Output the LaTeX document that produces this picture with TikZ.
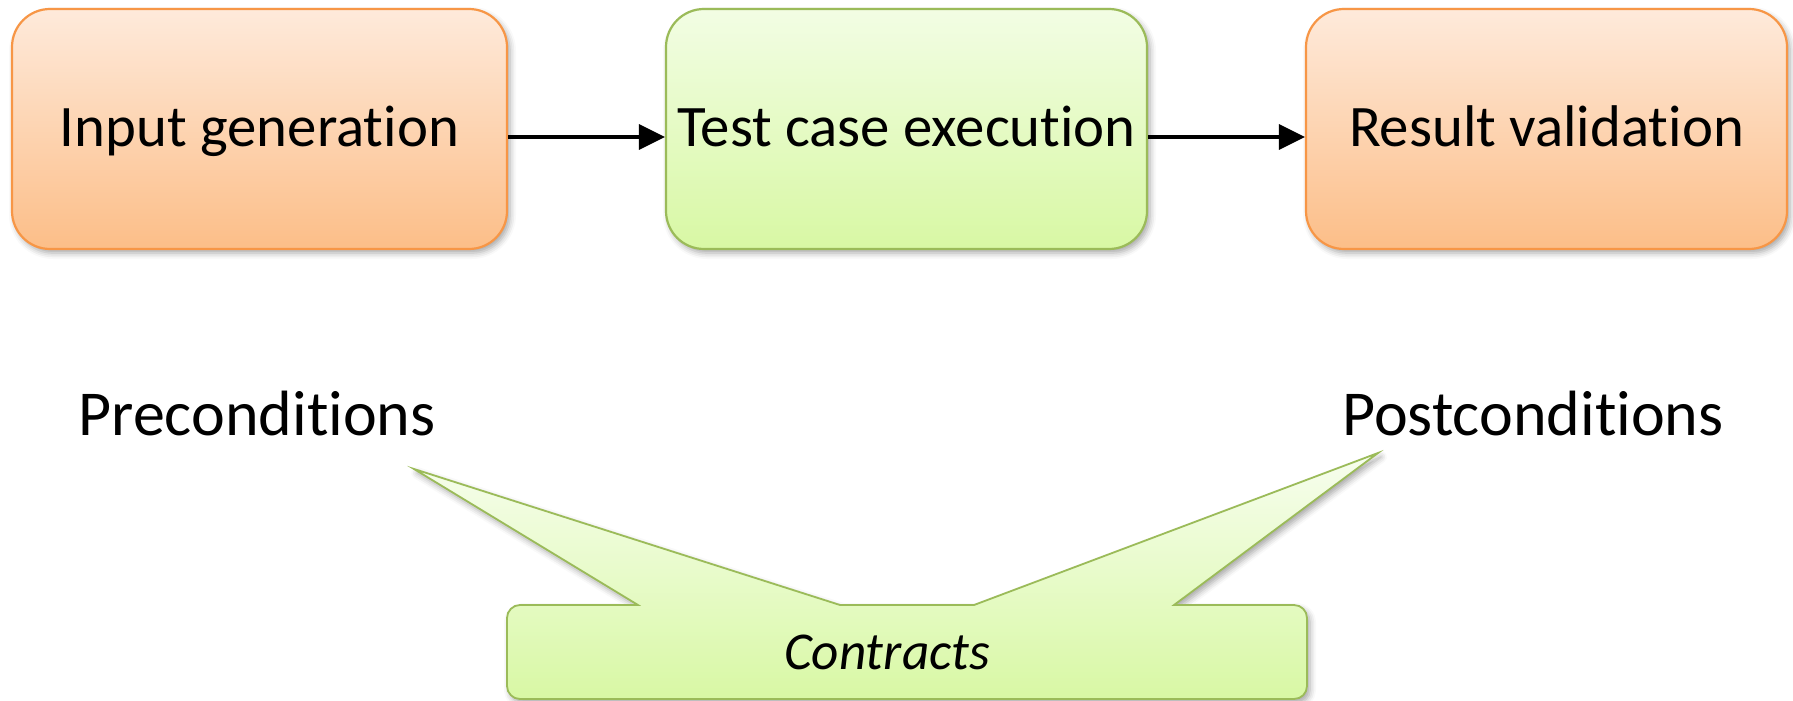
\documentclass[tikz,border=0pt]{standalone}
\usepackage{fontspec}
\setmainfont{Carlito}[Ligatures={NoCommon,NoRequired,NoContextual}]
\usetikzlibrary{arrows.meta,shadows.blur}

\definecolor{orTop}{HTML}{FEEADB}
\definecolor{orBot}{HTML}{FCBE88}
\definecolor{orLine}{HTML}{F79646}
\definecolor{grTop}{HTML}{F2FDE4}
\definecolor{grBot}{HTML}{D8F8A4}
\definecolor{grLine}{HTML}{9BBB59}

\tikzset{
  softshadow/.style={blur shadow={shadow xshift=1.5pt, shadow yshift=-2pt,
      shadow blur radius=3pt, shadow opacity=35}},
  stage/.style={rounded corners=19pt, line width=1.1pt, softshadow,
      minimum height=120pt, font=\fontsize{29.4}{34}\selectfont, inner sep=0pt,
      text height=23.5pt, text depth=5.5pt},
  orangebox/.style={stage, draw=orLine, top color=orTop, bottom color=orBot},
  greenbox/.style={stage, draw=grLine, top color=grTop, bottom color=grBot},
  flow/.style={line width=1.6pt, -{Triangle[length=13pt,width=12.5pt]}},
  condlabel/.style={font=\fontsize{32}{38}\selectfont, inner sep=0pt},
}

\begin{document}
\begin{tikzpicture}[x=0.5pt,y=-0.5pt]
\useasboundingbox (0,0) rectangle (1793,701);

% three stages of the test process
\node[orangebox, minimum width=247.5pt] (gen) at (259.5,129) {Input generation};
\node[greenbox,  minimum width=240.5pt] (exec) at (906.5,129) {Test case execution};
\node[orangebox, minimum width=240.5pt] (valid) at (1546.5,129) {Result validation};

\draw[flow] ([yshift=-4pt]gen.east) -- ([yshift=-4pt]exec.west);
\draw[flow] ([yshift=-4pt]exec.east) -- ([yshift=-4pt]valid.west);

% labels for the two kinds of conditions
\node[condlabel] (pre) at (257,414) {Preconditions};
\node[condlabel] (post) at (1533,414) {Postconditions};

% callout with two pointers
\coordinate (pretip) at (414,469);
\coordinate (posttip) at (1378,453);
\path[draw=grLine, line width=0.9pt, top color=grTop!60!white, bottom color=grBot, softshadow]
  (507,618) arc[start angle=180, end angle=90, radius=6.5pt]
  -- (638,605) -- (pretip) -- (840,605)
  -- (974,605) -- (posttip) -- (1174,605)
  -- (1294,605) arc[start angle=90, end angle=0, radius=6.5pt]
  -- (1307,686) arc[start angle=0, end angle=-90, radius=6.5pt]
  -- (520,699) arc[start angle=270, end angle=180, radius=6.5pt]
  -- cycle;
\node[font=\itshape\fontsize{26.6}{31}\selectfont, inner sep=0pt] (contracts) at (887,652) {Contracts};
\end{tikzpicture}
\end{document}
